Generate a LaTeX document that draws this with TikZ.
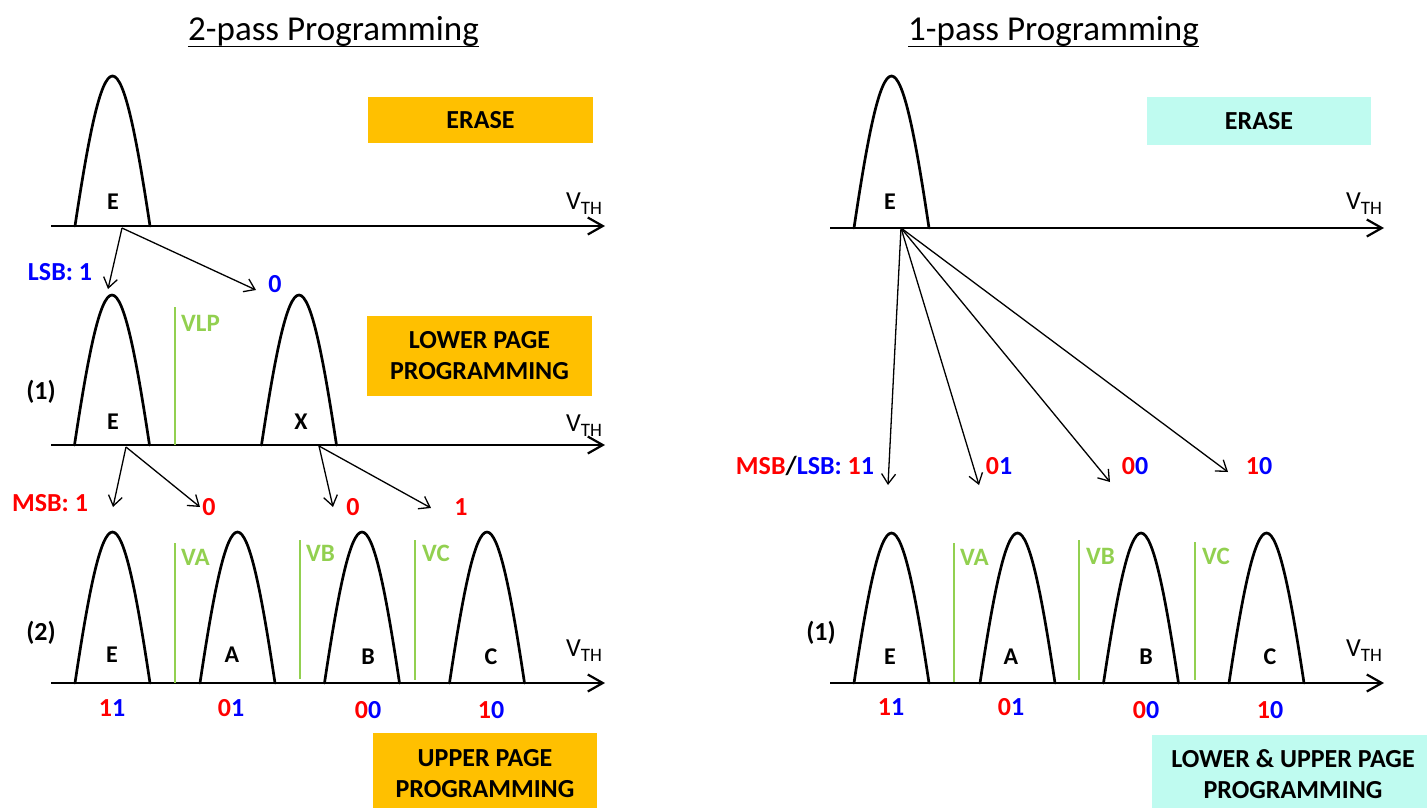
\documentclass[tikz,border=0pt]{standalone}
\usepackage{fontspec}
\setmainfont{Carlito}
\usetikzlibrary{arrows.meta}
\definecolor{orangebox}{HTML}{FFC000}
\definecolor{cyanbox}{HTML}{BFFBF0}
\definecolor{vgreen}{HTML}{92D050}
\definecolor{myred}{HTML}{FF0000}
\definecolor{myblue}{HTML}{0000FF}
\newcommand\drawpeak[3]{%
  \draw[peakline] ({#1-37.5},#2) .. controls ({#1-24.5},{#2-0.573*(#2-#3)}) and ({#1-12.5},#3) .. (#1,#3)
    .. controls ({#1+12.5},#3) and ({#1+24.5},{#2-0.573*(#2-#3)}) .. ({#1+37.5},#2);}
\newcommand\vthtext{V\raisebox{-5pt}{\fontsize{19}{19}\selectfont TH}}
\newcommand\rd[1]{\textcolor{myred}{#1}}
\newcommand\bl[1]{\textcolor{myblue}{#1}}
\begin{document}
\begin{tikzpicture}[x=1pt,y=-1pt,
  peakline/.style={line width=2.7pt, black, line cap=round},
  axisline/.style={line width=2.2pt, -{Straight Barb[length=15pt,width=17pt]}},
  thinarrow/.style={line width=1.3pt, -{Straight Barb[length=10pt,width=14pt]}},
  vline/.style={line width=2.6pt, vgreen},
  lbl/.style={font=\bfseries\fontsize{26}{30}\selectfont, inner sep=0pt},
  plbl/.style={font=\bfseries\fontsize{24}{28}\selectfont, inner sep=0pt},
  vlbl/.style={font=\bfseries\fontsize{25}{30}\selectfont, inner sep=0pt, text=vgreen, anchor=west},
  ttl/.style={font=\fontsize{35}{42}\selectfont, inner sep=0pt, anchor=base},
  obox/.style={fill=orangebox, font=\bfseries\fontsize{26}{31}\selectfont, align=center, inner sep=0pt},
  cbox/.style={obox, fill=cyanbox},
  vth/.style={font=\fontsize{26}{30}\selectfont, inner sep=0pt, anchor=west}
]
\useasboundingbox (0,0) rectangle (1427,807);
\clip (0,0) rectangle (1427,807);

% titles
\node[ttl] (t2) at (333.5,40) {2-pass Programming};
\draw[line width=1.8pt] ([yshift=-6.5pt]t2.base west) -- ([yshift=-6.5pt]t2.base east);
\node[ttl] (t1) at (1053.5,40) {1-pass Programming};
\draw[line width=1.8pt] ([yshift=-6.5pt]t1.base west) -- ([yshift=-6.5pt]t1.base east);

% boxes
\node[obox, minimum width=225pt, minimum height=46pt] (erL) at (480.5,120) {ERASE};
\node[obox, minimum width=225pt, minimum height=80pt] (lpL) at (479.5,356) {LOWER PAGE\\PROGRAMMING};
\node[obox, minimum width=224pt, minimum height=82pt] (upL) at (485,774) {UPPER PAGE\\PROGRAMMING};
\node[cbox, minimum width=224pt, minimum height=48pt] (erR) at (1259,121) {ERASE};
\node[cbox, minimum width=282pt, minimum height=78pt] (luR) at (1293,774) {LOWER \& UPPER PAGE\\PROGRAMMING};

% axes
\coordinate (a1s) at (51,226);  \coordinate (a1e) at (605,226);
\coordinate (a2s) at (51,445);  \coordinate (a2e) at (605,445);
\coordinate (a3s) at (51,683);  \coordinate (a3e) at (605,683);
\coordinate (b1s) at (830,228); \coordinate (b1e) at (1384,228);
\coordinate (b3s) at (830,683); \coordinate (b3e) at (1384,683);
\draw[axisline] (a1s) -- (a1e);
\draw[axisline] (a2s) -- (a2e);
\draw[axisline] (a3s) -- (a3e);
\draw[axisline] (b1s) -- (b1e);
\draw[axisline] (b3s) -- (b3e);

\node[vth] (vthA1) at (566,204) {\vthtext};
\node[vth] (vthA2) at (566,426) {\vthtext};
\node[vth] (vthA3) at (566,651) {\vthtext};
\node[vth] (vthB1) at (1346,204) {\vthtext};
\node[vth] (vthB3) at (1346,651) {\vthtext};

% peaks
\drawpeak{112.5}{226}{76}
\drawpeak{112}{445}{295}
\drawpeak{299}{445}{295}
\drawpeak{112.5}{683}{532}
\drawpeak{237.5}{683}{532}
\drawpeak{362}{683}{532}
\drawpeak{487}{683}{532}
\drawpeak{891.5}{228}{76}
\drawpeak{891.5}{683}{533}
\drawpeak{1017.5}{683}{533}
\drawpeak{1141}{683}{533}
\drawpeak{1266.5}{683}{533}

% peak labels
\node[plbl] (pE1) at (113,202) {E};
\node[plbl] (pE2) at (113,422) {E};
\node[plbl] (pX2) at (301,422) {X};
\node[plbl] (pE3) at (112,655) {E};
\node[plbl] (pA3) at (232,655) {A};
\node[plbl] (pB3) at (368,657) {B};
\node[plbl] (pC3) at (491,657) {C};
\node[plbl] (qE1) at (890,202) {E};
\node[plbl] (qE3) at (890,657) {E};
\node[plbl] (qA3) at (1011,657) {A};
\node[plbl] (qB3) at (1146,657) {B};
\node[plbl] (qC3) at (1270,657) {C};

% green read levels
\draw[vline] (175,307) -- (175,445);
\node[vlbl] (vlp) at (181,323) {VLP};
\draw[vline] (175,543) -- (175,683);
\node[vlbl] (vaL) at (181,557) {VA};
\draw[vline] (300,540) -- (300,679);
\node[vlbl] (vbL) at (306,553) {VB};
\draw[vline] (415,540) -- (415,680);
\node[vlbl] (vcL) at (422,553) {VC};
\draw[vline] (954,543) -- (954,682);
\node[vlbl] (vaR) at (960,557) {VA};
\draw[vline] (1079,540) -- (1079,680);
\node[vlbl] (vbR) at (1086,556) {VB};
\draw[vline] (1195,542) -- (1195,680);
\node[vlbl] (vcR) at (1202,556) {VC};

% step labels
\node[lbl] (s1) at (41,392) {(1)};
\node[lbl] (s2) at (41,633) {(2)};
\node[lbl] (s1r) at (821,633) {(1)};

% arrows left, row 1
\coordinate (o1) at (122,228);
\coordinate (o1a) at (108,289);
\coordinate (o1b) at (256,290);
\draw[thinarrow] (o1) -- (o1a);
\draw[thinarrow] (o1) -- (o1b);
\node[lbl, text=myblue] (lsb) at (60,272) {LSB: 1};
\node[lbl, text=myblue] (lsb0) at (275,284) {0};

% arrows left, row 2
\coordinate (o2) at (126,447);
\coordinate (o2a) at (113,507);
\coordinate (o2b) at (200,507);
\coordinate (o3) at (319,446);
\coordinate (o3a) at (333,507);
\coordinate (o3b) at (431,508);
\draw[thinarrow] (o2) -- (o2a);
\draw[thinarrow] (o2) -- (o2b);
\draw[thinarrow] (o3) -- (o3a);
\draw[thinarrow] (o3) -- (o3b);
\node[lbl, text=myred] (msb) at (50,503) {MSB: 1};
\node[lbl, text=myred] (msb0a) at (209,507) {0};
\node[lbl, text=myred] (msb0b) at (353,507) {0};
\node[lbl, text=myred] (msb1b) at (461,507) {1};

% codes left
\node[lbl] (cL1) at (112,708) {\rd{1}\bl{1}};
\node[lbl] (cL2) at (231,708) {\rd{0}\bl{1}};
\node[lbl] (cL3) at (368,710) {\rd{0}\bl{0}};
\node[lbl] (cL4) at (491,710) {\rd{1}\bl{0}};

% arrows right
\coordinate (r0) at (901,228);
\coordinate (r1) at (888,485);
\coordinate (r2) at (979,485);
\coordinate (r3) at (1110,482);
\coordinate (r4) at (1228,472);
\draw[thinarrow] (r0) -- (r1);
\draw[thinarrow] (r0) -- (r2);
\draw[thinarrow] (r0) -- (r3);
\draw[thinarrow] (r0) -- (r4);
\node[lbl] (ml) at (805,466) {\rd{MSB}/\bl{LSB: }\rd{1}\bl{1}};
\node[lbl] (m2) at (999,466) {\rd{0}\bl{1}};
\node[lbl] (m3) at (1135,466) {\rd{0}\bl{0}};
\node[lbl] (m4) at (1259,466) {\rd{1}\bl{0}};

% codes right
\node[lbl] (cR1) at (891,707) {\rd{1}\bl{1}};
\node[lbl] (cR2) at (1011,707) {\rd{0}\bl{1}};
\node[lbl] (cR3) at (1146,710) {\rd{0}\bl{0}};
\node[lbl] (cR4) at (1270,710) {\rd{1}\bl{0}};
\end{tikzpicture}
\end{document}
